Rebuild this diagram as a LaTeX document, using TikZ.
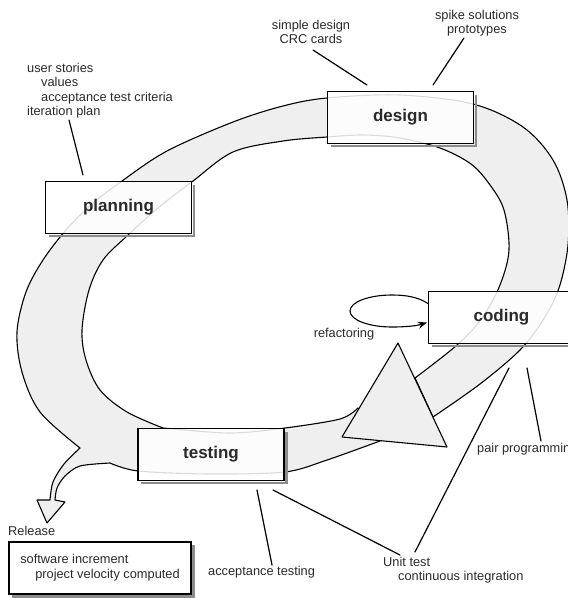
\documentclass[tikz,border=0pt]{standalone}
\usepackage{fontspec}
\setmainfont{Liberation Sans}
\usetikzlibrary{calc,arrows.meta}
\definecolor{bandgray}{HTML}{EFEFEF}
\definecolor{inkgray}{HTML}{2A2A2A}
\begin{document}
\begin{tikzpicture}[x=1pt,y=-1pt,
  band/.style={fill=bandgray, draw=black, line width=1.1pt, line join=round},
  stagebox/.style={draw=black, line width=1.1pt, fill=white, fill opacity=0.86, text opacity=1,
    minimum width=146pt, minimum height=52pt, font=\fontsize{17}{20}\selectfont\bfseries,
    text=inkgray, inner sep=0pt},
  lbl/.style={font=\fontsize{12.8}{14.5}\selectfont, text=inkgray, inner sep=0pt},
  pointer/.style={line width=1.2pt, draw=black, line cap=round},
  boxshadow/.style={draw=black!45, line width=2.4pt},
  loopline/.style={line width=1.1pt, draw=black, -{Stealth[length=9pt,width=7pt]}}]

\useasboundingbox (0,0) rectangle (568,598);
\clip (0,0) rectangle (568,598);

% the cycle band
\path[band]
 plot[smooth,tension=0.55] coordinates {(80,448) (40,412) (22,372) (17,332) (26,292) (43,260) (66,230) (92,204) (122,181) (167,151) (233,122) (283,106) (327,98) (400,95) (473,104) (523,127) (553,160) (567,200) (568,245) (559,288) (543,320) (520,350) (480,384) (433,417)}
 -- plot[smooth,tension=0.55] coordinates {(415,378) (457,345) (482,318) (500,285) (509,250) (504,210) (490,185) (471,164) (440,148) (400,138) (363,135) (327,137) (283,141) (233,152) (193,181) (158,208) (127,236) (103,260) (89,290) (82,330) (86,360) (100,390) (127,412) (163,428)}
 -- plot[smooth] coordinates {(163,428) (230,433) (285,428) (340,419) (358,408)}
 -- (380,441)
 -- plot[smooth] coordinates {(380,441) (327,460) (285,472) (210,474) (138,471) (110,463)}
 -- plot[smooth] coordinates {(110,463) (80,466) (65,476) (57,488) (55,500)}
 -- (65,502) -- (47,523) -- (37,500) -- (50,500)
 -- plot[smooth] coordinates {(50,500) (53,482) (64,464) (80,448)}
 -- cycle;

% big arrowhead
\path[band] (398,343) -- (447,447) -- (342,437) -- cycle;

% stage boxes
\node[stagebox] (design) at (400.5,117.5) {design};
\node[stagebox] (planning) at (118.5,207.5) {planning};
\node[stagebox] (coding) at (501.5,317.5) {coding};
\node[stagebox] (testing) at (211,454.5) {testing};
\node[stagebox, minimum width=182pt, font=\fontsize{12.8}{15}\selectfont, align=left] (release) at (100,568)
  {software increment\\\hspace*{15pt}project velocity computed};

\foreach \b in {design,planning,coding,testing,release}{
  \draw[boxshadow] ($(\b.north east)+(2,4)$) -- ($(\b.south east)+(2,2)$) -- ($(\b.south west)+(4,2)$);
}

% refactoring loop
\draw[loopline] ($(coding.west)+(0,-14)$) .. controls (418,297) and (406,295) .. (392,295)
  .. controls (369,295) and (350,302) .. (350,311)
  .. controls (350,320) and (369,327) .. (392,327)
  .. controls (405,327) and (416,326) .. ($(coding.west)+(-1,5)$);

% labels
\node[lbl, anchor=north west, align=left] (plannotes) at (27,63)
  {user stories\\\hspace*{14pt}values\\\hspace*{14pt}acceptance test criteria\\iteration plan};
\node[lbl, align=center] (designnotes) at (311,32) {simple design\\CRC cards};
\node[lbl, align=center] (spikenotes) at (477,23) {spike solutions\\prototypes};
\node[lbl] (refactorlbl) at (344,334) {refactoring};
\node[lbl, anchor=west] (pairlbl) at (477,449) {pair programming};
\node[lbl, anchor=west, align=left] (unitlbl) at (383,570) {Unit test\\\hspace*{15pt}continuous integration};
\node[lbl, anchor=west] (acclbl) at (208,572) {acceptance testing};
\node[lbl, anchor=west] (releaselbl) at (8,531) {Release};

% pointer lines
\coordinate (p1a) at (69,120); \coordinate (p1b) at (83,175);
\coordinate (p2a) at (313,50); \coordinate (p2b) at (367,85);
\coordinate (p3a) at (464,38); \coordinate (p3b) at (433,85);
\coordinate (p4a) at (527,368); \coordinate (p4b) at (541,441);
\coordinate (p5a) at (509,368); \coordinate (p5b) at (415,552);
\coordinate (p6a) at (273,490); \coordinate (p6b) at (400,555);
\coordinate (p7a) at (257,490); \coordinate (p7b) at (272,565);
\foreach \i in {1,...,7}{ \draw[pointer] (p\i a) -- (p\i b); }
\end{tikzpicture}
\end{document}
